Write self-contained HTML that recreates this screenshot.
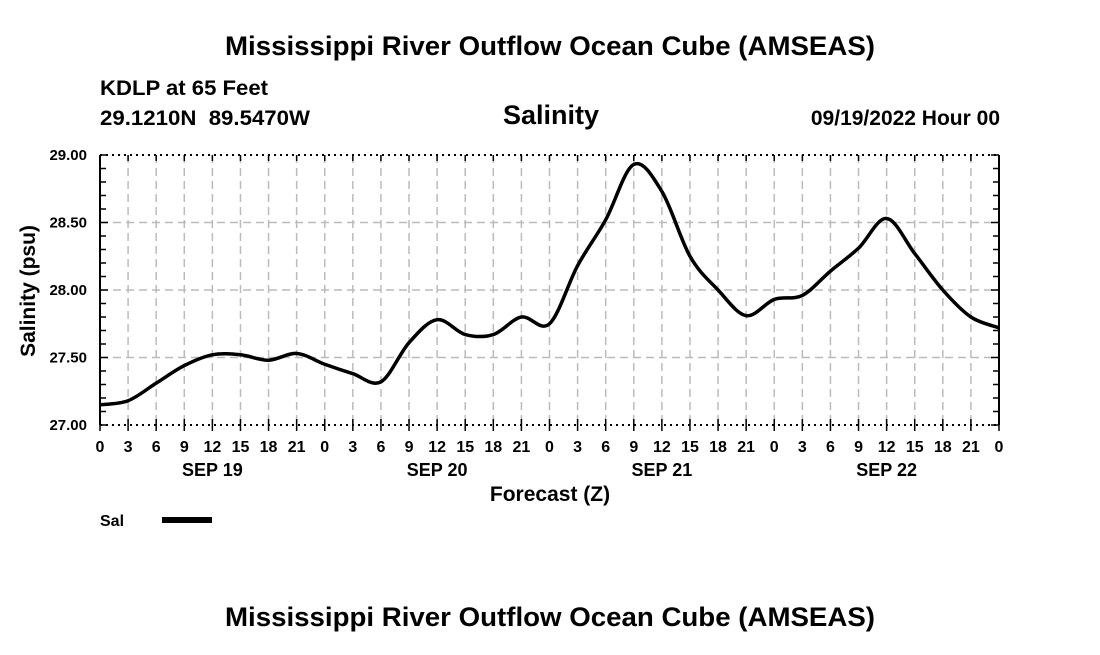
<!DOCTYPE html>
<html><head><meta charset="utf-8"><style>
body{margin:0;background:#fff;}
svg text{font-family:"Liberation Sans",Arial,sans-serif;font-weight:bold;fill:#000;}
</style></head><body>
<svg id="chart" width="1100" height="650" viewBox="0 0 1100 650" xmlns="http://www.w3.org/2000/svg">
<rect width="1100" height="650" fill="#fff"/>
<text x="550" y="55" font-size="27" text-anchor="middle" textLength="650" lengthAdjust="spacingAndGlyphs">Mississippi River Outflow Ocean Cube (AMSEAS)</text>
<text x="100" y="95" font-size="21" textLength="168" lengthAdjust="spacingAndGlyphs">KDLP at 65 Feet</text>
<text x="100" y="125" font-size="21" xml:space="preserve" style="white-space:pre" textLength="210" lengthAdjust="spacingAndGlyphs">29.1210N  89.5470W</text>
<text x="551" y="124" font-size="27" text-anchor="middle">Salinity</text>
<text x="1000" y="125" font-size="21" text-anchor="end">09/19/2022 Hour 00</text>
<g id="grid"></g>
<g id="axes"></g>
<path id="line" fill="none" stroke="#000" stroke-width="3.5" stroke-linejoin="round"/>
<text transform="translate(35,291) rotate(-90)" font-size="21" text-anchor="middle">Salinity (psu)</text>
<text x="550" y="501" font-size="21" text-anchor="middle">Forecast (Z)</text>
<text x="100" y="526" font-size="16">Sal</text>
<line x1="162" y1="520" x2="212" y2="520" stroke="#000" stroke-width="6"/>
<text x="550" y="626" font-size="27" text-anchor="middle" textLength="650" lengthAdjust="spacingAndGlyphs">Mississippi River Outflow Ocean Cube (AMSEAS)</text>
</svg>
<script>
const hours=[0,3,6,9,12,15,18,21,24,27,30,33,36,39,42,45,48,51,54,57,60,63,66,69,72,75,78,81,84,87,90,93,96];
const salinity=[27.15,27.18,27.31,27.44,27.52,27.52,27.48,27.53,27.45,27.38,27.32,27.61,27.78,27.67,27.67,27.80,27.75,28.18,28.52,28.93,28.73,28.25,28.00,27.81,27.93,27.96,28.14,28.31,28.53,28.27,28.00,27.80,27.72];
const yTicks=[27.00,27.50,28.00,28.50,29.00];
const dayLabels=["SEP 19","SEP 20","SEP 21","SEP 22"];
const X0=100,X1=999,Y0=425,Y1=155,YMIN=27,YMAX=29;
const xs=h=>X0+(h/96)*(X1-X0);
const ys=v=>Y0-(v-YMIN)/(YMAX-YMIN)*(Y0-Y1);
const NS="http://www.w3.org/2000/svg";
function mk(parent,tag,attrs){const e=document.createElementNS(NS,tag);for(const k in attrs)e.setAttribute(k,attrs[k]);parent.appendChild(e);return e;}
const grid=document.getElementById('grid'),axes=document.getElementById('axes');
for(let h=3;h<96;h+=3){
 const l=mk(grid,'line',{x1:xs(h),x2:xs(h),y1:Y1,y2:Y0,stroke:'#bbb','stroke-width':1.5,'stroke-dasharray':'8,5'});
 
 
}
yTicks.forEach(v=>{
 if(v>YMIN&&v<YMAX){const l=mk(grid,'line',{x1:X0,x2:X1,y1:ys(v),y2:ys(v),stroke:'#bbb','stroke-width':1.5,'stroke-dasharray':'8,5'});
 
 }
 const t=mk(axes,'text',{x:87,y:ys(v)+5,'font-size':15,'text-anchor':'end'});t.textContent=v.toFixed(2);
 
 
});
for(let v=YMIN;v<=YMAX+1e-9;v+=0.1){
 const major=Math.abs(v*2-Math.round(v*2))<1e-6;
 mk(axes,'line',{x1:X0,x2:X0+(major?8:6),y1:ys(v),y2:ys(v),stroke:'#000','stroke-width':1.5});
 mk(axes,'line',{x1:X1-(major?8:6),x2:X1,y1:ys(v),y2:ys(v),stroke:'#000','stroke-width':1.5});
}
mk(axes,'line',{x1:X0,x2:X0,y1:Y1,y2:Y0,stroke:'#000','stroke-width':2});
mk(axes,'line',{x1:X1,x2:X1,y1:Y1,y2:Y0,stroke:'#000','stroke-width':2});
mk(axes,'line',{x1:X0,x2:X1,y1:Y1,y2:Y1,stroke:'#000','stroke-width':2,'stroke-dasharray':'2,4'});
mk(axes,'line',{x1:X0,x2:X1,y1:Y0,y2:Y0,stroke:'#000','stroke-width':2,'stroke-dasharray':'2,4'});
for(let h=0;h<=96;h+=3){
 mk(axes,'line',{x1:xs(h),x2:xs(h),y1:Y1,y2:Y1+6,stroke:'#000','stroke-width':1.5});
 mk(axes,'line',{x1:xs(h),x2:xs(h),y1:Y0-6,y2:Y0+6,stroke:'#000','stroke-width':1.5});
 const t=mk(axes,'text',{x:xs(h),y:452,'font-size':16,'text-anchor':'middle'});t.textContent=String(h%24);
 
 
}
dayLabels.forEach((d,i)=>{const t=mk(axes,'text',{x:xs(i*24+12),y:476,'font-size':18,'text-anchor':'middle'});t.textContent=d;
 
 });
const P=hours.map((h,i)=>[xs(h),ys(salinity[i])]);
let d='M'+P[0][0]+','+P[0][1];
for(let i=0;i<P.length-1;i++){
 const p0=P[Math.max(0,i-1)],p1=P[i],p2=P[i+1],p3=P[Math.min(P.length-1,i+2)];
 const c1=[p1[0]+(p2[0]-p0[0])/6,p1[1]+(p2[1]-p0[1])/6],c2=[p2[0]-(p3[0]-p1[0])/6,p2[1]-(p3[1]-p1[1])/6];
 d+=' C'+c1+' '+c2+' '+p2;
}
document.getElementById('line').setAttribute('d',d);
</script>
</body></html>
